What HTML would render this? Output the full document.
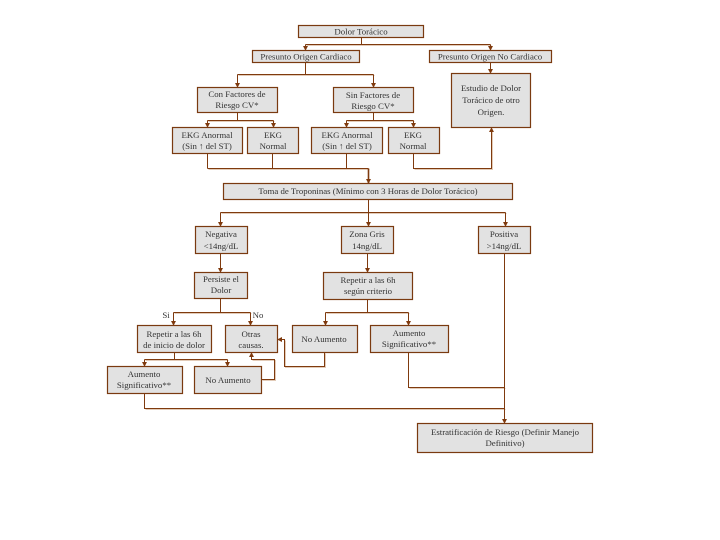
<!DOCTYPE html>
<html><head><meta charset="utf-8"><style>
html,body{margin:0;padding:0;background:#fff;}
svg{display:block;}
text{font-family:"Liberation Serif",serif;font-size:8.8px;fill:#333;text-anchor:middle;}
.b{fill:#e2e2e2;stroke:#7a3a10;stroke-width:1.2;}
.l{fill:none;stroke:#7f3a0e;stroke-width:1;}
.s{fill:none;stroke:#e2cbb8;stroke-width:1;}
.a{fill:#7f3a0e;}
</style></head><body>
<svg width="720" height="540" viewBox="0 0 720 540" xmlns="http://www.w3.org/2000/svg">
<defs>
<marker id="ar" viewBox="0 0 6 6" refX="5.5" refY="3" markerWidth="5" markerHeight="5" orient="auto" markerUnits="userSpaceOnUse"><path d="M0,0 L6,3 L0,6 z" class="a"/></marker>
</defs>
<!-- shadows -->
<g class="s" transform="translate(1.5,1.5)">
<path d="M305,44H490"/>
<path d="M237,74H373"/>
<path d="M207,120H273M346,120H413"/>
<path d="M207,168H368M413,168H491V130"/>
<path d="M220,212H505"/>
<path d="M173,312H250M325,312H408"/>
<path d="M144,359H227M261,379H274V359H251"/>
<path d="M324,352V366H284V339"/>
<path d="M408,387H504M144,408H504"/>
</g>
<!-- lines -->
<g class="l" transform="translate(0.5,0.5)">
<path d="M361,37V44M305,44H490"/>
<path d="M305,44V50" marker-end="url(#ar)"/>
<path d="M490,44V50" marker-end="url(#ar)"/>
<path d="M305,62V74M237,74H373"/>
<path d="M237,74V87" marker-end="url(#ar)"/>
<path d="M373,74V87" marker-end="url(#ar)"/>
<path d="M490,62V73" marker-end="url(#ar)"/>
<path d="M237,112V120M207,120H273"/>
<path d="M207,120V127" marker-end="url(#ar)"/>
<path d="M273,120V127" marker-end="url(#ar)"/>
<path d="M373,112V120M346,120H413"/>
<path d="M346,120V127" marker-end="url(#ar)"/>
<path d="M413,120V127" marker-end="url(#ar)"/>
<path d="M207,153V168M272,153V168M346,153V168M207,168H368"/>
<path d="M368,168V183" marker-end="url(#ar)" style="stroke-width:1.6"/>
<path d="M413,153V168H491V127" marker-end="url(#ar)"/>
<path d="M368,199V212M220,212H505"/>
<path d="M220,212V226" marker-end="url(#ar)"/>
<path d="M368,212V226" marker-end="url(#ar)"/>
<path d="M505,212V226" marker-end="url(#ar)"/>
<path d="M220,253V272" marker-end="url(#ar)"/>
<path d="M367,253V272" marker-end="url(#ar)"/>
<path d="M220,298V312M173,312H250"/>
<path d="M173,312V325" marker-end="url(#ar)"/>
<path d="M250,312V325" marker-end="url(#ar)"/>
<path d="M367,299V312M325,312H408"/>
<path d="M325,312V325" marker-end="url(#ar)"/>
<path d="M408,312V325" marker-end="url(#ar)"/>
<path d="M174,352V359M144,359H227"/>
<path d="M144,359V366" marker-end="url(#ar)"/>
<path d="M227,359V366" marker-end="url(#ar)"/>
<path d="M261,379H274V359H251V352" marker-end="url(#ar)"/>
<path d="M324,352V366H284V339H277" marker-end="url(#ar)"/>
<path d="M408,352V387H504"/>
<path d="M504,253V423" marker-end="url(#ar)"/>
<path d="M144,393V408H504"/>
</g>
<!-- boxes -->
<rect class="b" x="298.5" y="25.5" width="125" height="12"/>
<text x="361" y="34.5">Dolor Torácico</text>
<rect class="b" x="252.5" y="50.5" width="107" height="12"/>
<text x="306" y="59.5">Presunto Origen Cardiaco</text>
<rect class="b" x="429.5" y="50.5" width="122" height="12"/>
<text x="490" y="59.5">Presunto Origen No Cardiaco</text>
<rect class="b" x="197.5" y="87.5" width="80" height="25"/>
<text x="237" y="97">Con Factores de</text><text x="237" y="108">Riesgo CV*</text>
<rect class="b" x="333.5" y="87.5" width="80" height="25"/>
<text x="373" y="98">Sin Factores de</text><text x="373" y="109">Riesgo CV*</text>
<rect class="b" x="451.5" y="73.5" width="79" height="54"/>
<text x="491" y="91">Estudio de Dolor</text><text x="491" y="103">Torácico de otro</text><text x="491" y="115">Origen.</text>
<rect class="b" x="172.5" y="127.5" width="70" height="26"/>
<text x="207" y="138">EKG Anormal</text><text x="207" y="149">(Sin ↑ del ST)</text>
<rect class="b" x="247.5" y="127.5" width="51" height="26"/>
<text x="273" y="138">EKG</text><text x="273" y="149">Normal</text>
<rect class="b" x="311.5" y="127.5" width="71" height="26"/>
<text x="347" y="138">EKG Anormal</text><text x="347" y="149">(Sin ↑ del ST)</text>
<rect class="b" x="388.5" y="127.5" width="51" height="26"/>
<text x="413" y="138">EKG</text><text x="413" y="149">Normal</text>
<rect class="b" x="223.5" y="183.5" width="289" height="16"/>
<text x="368" y="194">Toma de Troponinas (Mínimo con 3 Horas de Dolor Torácico)</text>
<rect class="b" x="195.5" y="226.5" width="52" height="27"/>
<text x="221" y="237">Negativa</text><text x="221" y="249">&lt;14ng/dL</text>
<rect class="b" x="341.5" y="226.5" width="52" height="27"/>
<text x="367" y="237">Zona Gris</text><text x="367" y="249">14ng/dL</text>
<rect class="b" x="478.5" y="226.5" width="52" height="27"/>
<text x="504" y="237">Positiva</text><text x="504" y="249">&gt;14ng/dL</text>
<rect class="b" x="194.5" y="272.5" width="53" height="26"/>
<text x="221" y="282">Persiste el</text><text x="221" y="293">Dolor</text>
<rect class="b" x="323.5" y="272.5" width="89" height="27"/>
<text x="368" y="283">Repetir a las 6h</text><text x="368" y="294">según criterio</text>
<rect class="b" x="137.5" y="325.5" width="74" height="27"/>
<text x="174" y="337">Repetir a las 6h</text><text x="174" y="348">de inicio de dolor</text>
<rect class="b" x="225.5" y="325.5" width="52" height="27"/>
<text x="251" y="337">Otras</text><text x="251" y="348">causas.</text>
<rect class="b" x="292.5" y="325.5" width="65" height="27"/>
<text x="324" y="342">No Aumento</text>
<rect class="b" x="370.5" y="325.5" width="78" height="27"/>
<text x="409" y="336">Aumento</text><text x="409" y="347">Significativo**</text>
<rect class="b" x="107.5" y="366.5" width="75" height="27"/>
<text x="144" y="377">Aumento</text><text x="144" y="388">Significativo**</text>
<rect class="b" x="194.5" y="366.5" width="67" height="27"/>
<text x="228" y="383">No Aumento</text>
<rect class="b" x="417.5" y="423.5" width="175" height="29"/>
<text x="505" y="435">Estratificación de Riesgo (Definir Manejo</text><text x="505" y="446">Definitivo)</text>
<text x="166" y="318">Si</text>
<text x="258" y="318">No</text>
</svg>
</body></html>
